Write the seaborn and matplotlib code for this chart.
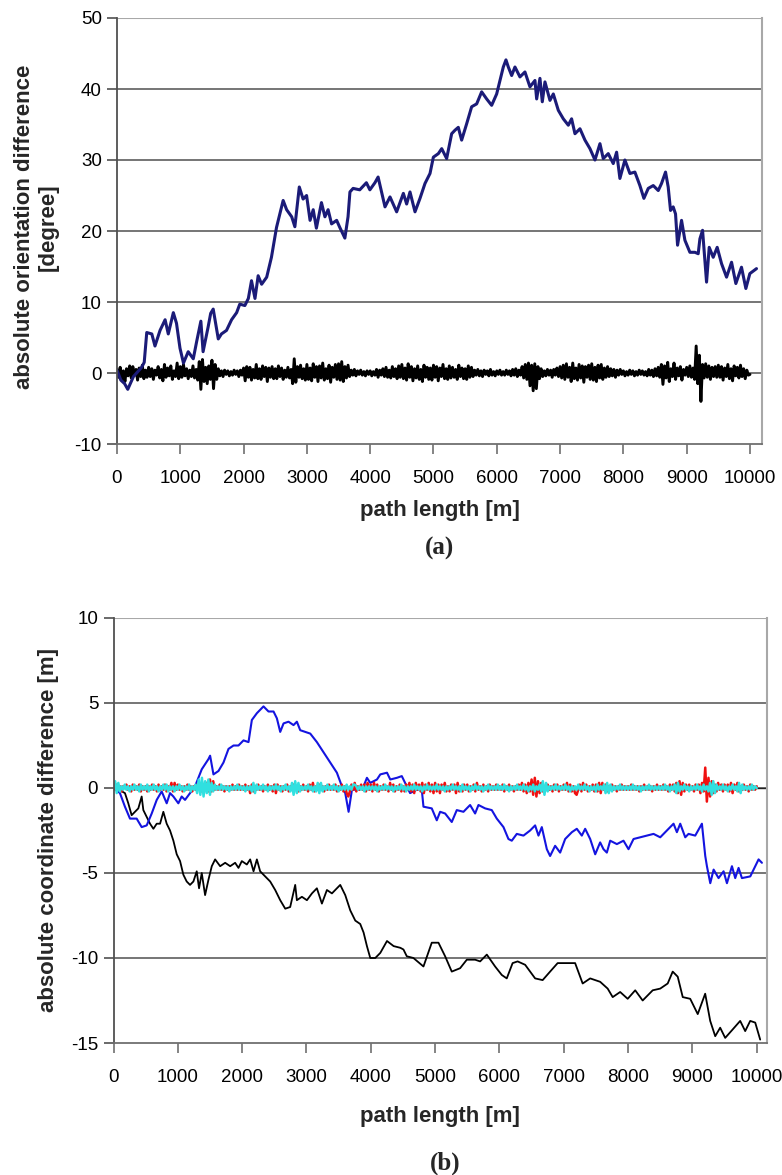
import numpy as np
import pandas as pd
import matplotlib
matplotlib.use("Agg")
import matplotlib.pyplot as plt
import seaborn as sns

# ---- data ----
# (a) absolute orientation difference [degree], uncorrected
orient_drift = [
    (0, 0.4), (60, -1.0), (120, -1.5), (170, -2.3), (260, -0.5), (390, 0.8), (430, 1.5),
    (470, 5.7), (550, 5.5), (600, 3.8), (680, 6.0), (760, 7.5), (810, 5.5), (890, 8.5),
    (940, 7.0), (995, 3.5), (1050, 1.4), (1125, 3.0), (1205, 2.0), (1260, 4.5), (1325, 7.3),
    (1360, 3.0), (1440, 6.5), (1480, 8.4), (1520, 9.0), (1600, 4.8), (1650, 5.5), (1730, 6.0),
    (1810, 7.5), (1890, 8.5), (1940, 9.7), (2020, 9.5), (2075, 10.5), (2125, 13.0), (2180, 10.5),
    (2230, 13.7), (2285, 12.5), (2365, 13.5), (2440, 16.3), (2520, 20.5), (2575, 22.5),
    (2625, 24.3), (2680, 23.0), (2760, 22.0), (2810, 20.6), (2880, 26.2), (2940, 24.5),
    (2995, 25.0), (3050, 21.5), (3100, 23.0), (3150, 20.4), (3230, 24.0), (3285, 22.0),
    (3335, 23.0), (3390, 21.0), (3470, 21.5), (3520, 20.5), (3600, 19.0), (3650, 22.0),
    (3680, 25.5), (3730, 26.0), (3835, 25.8), (3940, 26.8), (3995, 25.8), (4075, 26.8),
    (4125, 27.6), (4234, 23.4), (4313, 24.8), (4418, 22.7), (4524, 25.3), (4576, 23.8),
    (4629, 25.5), (4708, 22.7), (4787, 24.6), (4866, 26.7), (4945, 28.1), (4998, 30.4),
    (5077, 30.9), (5130, 31.6), (5208, 30.2), (5287, 33.7), (5340, 34.2), (5392, 34.6),
    (5445, 32.8), (5524, 35.1), (5603, 37.5), (5682, 37.9), (5761, 39.6), (5840, 38.6),
    (5919, 37.7), (5998, 39.3), (6050, 41.2), (6103, 43.1), (6145, 44.1), (6182, 43.1),
    (6235, 41.9), (6287, 43.1), (6366, 41.7), (6445, 42.4), (6524, 40.3), (6603, 41.2),
    (6630, 38.6), (6682, 41.5), (6719, 38.2), (6761, 41.0), (6840, 38.4), (6893, 39.3),
    (6972, 37.0), (7051, 35.8), (7130, 34.9), (7182, 35.8), (7235, 33.7), (7314, 34.4),
    (7393, 32.8), (7472, 31.6), (7551, 30.0), (7630, 32.3), (7682, 30.2), (7761, 30.9),
    (7840, 29.5), (7893, 31.1), (7945, 27.4), (8024, 30.0), (8103, 28.1), (8182, 28.3),
    (8261, 26.4), (8324, 24.6), (8393, 26.0), (8472, 26.4), (8551, 25.7), (8603, 26.7),
    (8666, 28.3), (8708, 26.2), (8745, 22.9), (8787, 23.4), (8824, 22.4), (8856, 18.0),
    (8919, 21.5), (8972, 18.7), (9051, 17.0), (9130, 17.0), (9182, 16.8), (9209, 18.9),
    (9251, 20.1), (9288, 15.9), (9314, 12.8), (9356, 17.7), (9419, 16.3), (9482, 17.7),
    (9551, 15.4), (9630, 13.5), (9709, 15.6), (9777, 12.6), (9866, 14.9), (9935, 11.9),
    (9998, 14.0), (10103, 14.7),
]

# (a) corrected orientation difference, one value every 25 m
noise_step = 25
orient_corrected = [
    0.5, -0.6, 0.8, -0.9, 0.3, -1.2, 0.6, -0.4, 1.0, -0.7, 0.9, -0.3, 0.5, -1.0, 0.7, -0.5, 1.1, -0.8, 0.4, -0.6,
    0.8, -0.5, 0.6, -0.9, 0.4, -0.3, 0.9, -0.7, 0.5, -1.1, 1.2, -0.6, 0.7, -0.4, 1.0, -0.9, 0.3, -0.5, 1.4, -0.8,
    0.9, -0.6, 1.2, -0.4, 0.6, -0.8, 0.4, -0.5, 1.0, -0.7, 0.5, -1.0, 1.6, -2.3, 1.9, -1.2, 0.8, -1.5, 1.0, -0.9,
    1.8, -2.2, 1.2, -0.9, 0.6, -0.4, 0.3, -0.5, 0.4, -0.2, 0.3, -0.4, 0.2, -0.3, 0.4, -0.2, 0.3, -0.5, 0.4, -0.3,
    0.7, -1.1, 0.9, -0.6, 0.8, -1.0, 0.5, -0.7, 1.2, -0.8, 0.6, -0.9, 1.0, -0.5, 0.8, -1.2, 0.7, -0.6, 0.9, -0.8,
    0.6, -0.8, 1.0, -0.5, 0.7, -0.9, 0.4, -0.6, 0.8, -0.7, 0.5, -1.5, 2.0, -1.3, 0.9, -0.6, 1.1, -0.8, 0.6, -1.0,
    1.2, -0.9, 0.7, -1.1, 1.3, -0.6, 0.9, -1.2, 1.0, -0.7, 1.4, -1.0, 0.6, -0.8, 1.1, -1.3, 0.8, -0.6, 1.2, -0.9,
    1.3, -1.0, 1.6, -1.2, 0.9, -0.7, 1.1, -0.5, 0.4, -0.3, 0.5, -0.4, 0.3, -0.2, 0.4, -0.3, 0.2, -0.4, 0.3, -0.2,
    0.3, -0.4, 0.2, -0.3, 0.5, -0.6, 0.4, -0.3, 0.6, -0.5, 0.8, -0.6, 0.4, -0.7, 0.9, -0.5, 0.6, -0.8, 1.0, -0.6,
    1.2, -0.8, 0.7, -1.0, 1.3, -0.6, 0.9, -1.1, 0.6, -0.7, 1.0, -0.9, 0.5, -1.2, 1.1, -0.6, 0.8, -0.9, 0.7, -1.0,
    1.1, -0.6, 0.9, -1.1, 0.7, -0.5, 1.2, -0.8, 0.6, -0.9, 1.0, -0.7, 0.8, -0.6, 0.5, -0.9, 1.1, -0.5, 0.7, -0.8,
    0.6, -0.9, 1.0, -0.6, 0.8, -0.5, 0.4, -0.3, 0.5, -0.4, 0.3, -0.5, 0.4, -0.2, 0.3, -0.4, 0.5, -0.3, 0.2, -0.4,
    0.3, -0.2, 0.4, -0.3, 0.2, -0.3, 0.4, -0.2, 0.3, -0.4, 0.5, -0.3, 0.6, -0.5, 0.4, -0.3, 0.9, -0.7, 1.2, -0.9,
    1.4, -1.8, 1.1, -2.5, 1.3, -2.2, 0.9, -0.8, 0.6, -0.5, 0.3, -0.4, 0.5, -0.3, 0.4, -0.6, 0.5, -0.3, 0.7, -0.5,
    0.9, -0.7, 1.1, -0.9, 1.3, -0.6, 0.8, -1.2, 1.4, -0.8, 0.7, -1.0, 1.2, -0.7, 1.0, -1.3, 0.9, -0.6, 1.1, -0.9,
    1.3, -1.0, 0.8, -1.2, 1.1, -0.7, 1.2, -0.9, 0.7, -0.6, 0.9, -0.5, 0.6, -0.4, 0.5, -0.6, 0.4, -0.3, 0.5, -0.2,
    0.3, -0.4, 0.2, -0.3, 0.4, -0.2, 0.3, -0.4, 0.2, -0.3, 0.4, -0.2, 0.3, -0.3, 0.2, -0.4, 0.5, -0.3, 0.4, -0.5,
    0.6, -0.4, 0.8, -0.6, 1.2, -1.6, 1.0, -0.7, 1.5, -1.2, 0.6, -0.5, 1.4, -0.9, 0.7, -0.4, 0.9, -1.0, 0.5, -0.3,
    0.8, -0.5, 1.0, -0.6, 0.7, -0.9, 3.8, -1.5, 2.5, -4.0, 1.2, -0.7, 1.3, -0.6, 1.0, -0.9, 0.8, -0.5, 0.9, -0.6,
    1.1, -0.6, 0.9, -1.0, 0.7, -0.5, 1.2, -0.8, 0.6, -1.1, 1.0, -0.4, 0.8, -0.7, 1.1, -0.5, 0.6, -0.8, 0.4, -0.3,
    -0.2,
]

# (b) absolute coordinate difference [m], uncorrected
coord_blue = [
    (0, 0.0), (100, -0.3), (178, -1.1), (256, -1.8), (360, -1.8), (438, -2.3), (516, -2.2),
    (594, -1.5), (672, -0.7), (749, -0.2), (827, -0.9), (879, -0.3), (931, -0.5), (1008, -0.9),
    (1060, -0.5), (1112, -0.7), (1190, -0.3), (1268, 0.1), (1372, 1.1), (1424, 1.4),
    (1476, 1.7), (1502, 1.9), (1554, 0.8), (1632, 1.0), (1710, 1.5), (1788, 2.3), (1866, 2.5),
    (1943, 2.5), (2021, 2.8), (2099, 2.7), (2151, 4.0), (2229, 4.4), (2332, 4.8), (2410, 4.5),
    (2488, 4.5), (2540, 4.1), (2592, 3.3), (2644, 3.8), (2721, 3.9), (2799, 3.7), (2851, 3.9),
    (2903, 3.4), (2981, 3.3), (3059, 3.2), (3162, 2.7), (3266, 2.1), (3370, 1.5), (3473, 0.9),
    (3551, 0.1), (3603, -0.3), (3655, -1.4), (3707, -0.1), (3810, -0.1), (3888, 0.1),
    (3940, 0.6), (3992, 0.3), (4096, 0.5), (4148, 0.8), (4252, 0.9), (4303, 0.5), (4407, 0.6),
    (4482, 0.7), (4534, 0.3), (4611, -0.3), (4715, -0.1), (4793, -0.1), (4819, -1.1),
    (4948, -1.2), (5026, -1.9), (5078, -1.4), (5156, -1.5), (5259, -2.0), (5337, -1.3),
    (5441, -1.4), (5544, -1.0), (5622, -1.5), (5674, -1.0), (5778, -1.2), (5881, -1.3),
    (5959, -1.8), (6063, -2.3), (6140, -3.0), (6192, -3.1), (6270, -2.7), (6374, -2.8),
    (6477, -2.5), (6555, -2.2), (6607, -2.8), (6659, -2.3), (6737, -3.6), (6788, -4.0),
    (6866, -3.4), (6944, -3.8), (7022, -3.0), (7126, -2.6), (7203, -2.4), (7281, -2.8),
    (7333, -2.4), (7411, -3.0), (7489, -3.9), (7566, -3.2), (7618, -3.6), (7670, -3.8),
    (7722, -3.1), (7826, -3.3), (7929, -3.1), (8007, -3.6), (8085, -3.0), (8189, -2.9),
    (8292, -2.8), (8396, -2.7), (8500, -2.9), (8577, -2.6), (8655, -2.3), (8707, -2.1),
    (8759, -2.6), (8811, -2.1), (8889, -2.9), (8940, -2.7), (9044, -2.8), (9148, -2.1),
    (9200, -4.0), (9226, -4.6), (9278, -5.6), (9330, -4.8), (9407, -5.3), (9485, -4.9),
    (9537, -5.6), (9615, -4.6), (9666, -5.3), (9718, -4.7), (9770, -5.3), (9900, -5.2),
    (9977, -4.6), (10029, -4.2), (10081, -4.4),
]

coord_black = [
    (0, 0.0), (78, -0.1), (130, -0.2), (178, -0.3), (230, -0.9), (282, -1.6), (334, -1.4),
    (386, -1.2), (438, -0.5), (464, -1.3), (516, -1.7), (568, -2.1), (620, -2.4), (672, -2.1),
    (724, -2.1), (775, -1.4), (827, -2.1), (879, -2.5), (931, -3.1), (983, -3.9), (1035, -4.3),
    (1086, -5.1), (1138, -5.5), (1190, -5.7), (1242, -5.5), (1294, -4.9), (1330, -5.9),
    (1372, -5.0), (1424, -6.3), (1476, -5.4), (1528, -4.6), (1580, -4.2), (1658, -4.6),
    (1736, -4.4), (1814, -4.6), (1891, -4.4), (1943, -4.7), (1995, -4.3), (2073, -4.5),
    (2125, -4.2), (2177, -4.9), (2229, -4.2), (2280, -4.9), (2358, -5.2), (2436, -5.5),
    (2514, -6.0), (2592, -6.6), (2670, -7.1), (2747, -7.0), (2825, -5.7), (2851, -6.6),
    (2929, -6.4), (3007, -6.6), (3085, -6.2), (3162, -5.9), (3240, -6.8), (3318, -6.0),
    (3396, -6.2), (3473, -5.9), (3525, -5.7), (3603, -6.3), (3681, -7.2), (3759, -7.8),
    (3836, -8.0), (3888, -8.5), (3940, -9.3), (3992, -10.0), (4070, -10.0), (4148, -9.7),
    (4252, -9.0), (4355, -9.3), (4459, -9.4), (4508, -9.5), (4560, -9.9), (4663, -10.0),
    (4819, -10.5), (4948, -9.1), (5052, -9.1), (5156, -9.9), (5259, -10.8), (5389, -10.6),
    (5493, -10.1), (5622, -10.1), (5700, -10.2), (5804, -9.8), (5933, -10.5), (6037, -11.0),
    (6114, -11.2), (6205, -10.3), (6283, -10.2), (6400, -10.4), (6555, -11.2), (6672, -11.3),
    (6788, -10.8), (6905, -10.3), (7022, -10.3), (7177, -10.3), (7294, -11.5), (7411, -11.2),
    (7566, -11.4), (7683, -11.8), (7761, -12.3), (7877, -12.0), (7994, -12.4), (8111, -11.9),
    (8227, -12.5), (8383, -11.9), (8500, -11.8), (8616, -11.5), (8694, -10.8), (8772, -11.1),
    (8850, -12.3), (8966, -12.4), (9083, -13.3), (9199, -12.1), (9277, -13.7), (9355, -14.6),
    (9432, -14.1), (9510, -14.7), (9627, -14.2), (9743, -13.7), (9821, -14.3), (9899, -13.7),
    (9977, -13.8), (10054, -14.8),
]

# (b) corrected coordinates, one value every 25 m
coord_red = [
    0.1, -0.1, 0.2, -0.1, 0.1, -0.2, 0.1, 0.0, 0.2, -0.1, 0.1, -0.2, 0.2, -0.1, 0.1, -0.1, 0.2, -0.2, 0.1, -0.1,
    0.1, -0.2, 0.1, -0.1, 0.2, -0.1, 0.1, -0.2, 0.2, -0.1, 0.1, -0.1, 0.2, -0.2, 0.1, -0.1, 0.3, -0.2, 0.3, -0.1,
    0.2, -0.1, 0.1, -0.2, 0.1, -0.1, 0.2, -0.1, 0.1, -0.2, 0.1, -0.1, 0.2, -0.1, 0.1, -0.2, 0.2, -0.1, 0.3, -0.2,
    0.5, -0.2, 0.4, -0.1, 0.1, -0.1, 0.2, -0.1, 0.1, -0.2, 0.1, -0.1, 0.1, -0.1, 0.2, -0.1, 0.1, -0.1, 0.2, -0.1,
    0.1, -0.1, 0.2, -0.1, 0.1, -0.3, 0.2, -0.2, 0.1, -0.1, 0.2, -0.1, 0.1, -0.2, 0.1, -0.1, 0.2, -0.1, 0.1, -0.2,
    0.2, -0.3, 0.2, -0.1, 0.1, -0.2, 0.1, -0.1, 0.2, -0.2, 0.1, -0.1, 0.2, -0.1, 0.1, -0.2, 0.1, -0.1, 0.2, -0.1,
    0.1, -0.2, 0.2, -0.1, 0.3, -0.2, 0.1, -0.1, 0.2, -0.1, 0.1, -0.2, 0.1, -0.1, 0.2, -0.1, 0.1, -0.1, 0.2, -0.2,
    0.1, -0.1, 0.2, -0.2, 0.1, -0.3, -0.5, -0.2, 0.2, -0.1, 0.3, -0.2, 0.1, -0.1, 0.2, -0.1, 0.2, -0.2, 0.3, -0.1,
    0.2, -0.2, 0.3, -0.1, 0.2, -0.2, 0.1, -0.1, 0.2, -0.1, 0.1, -0.2, 0.3, -0.1, 0.2, -0.2, 0.1, -0.1, 0.2, -0.2,
    0.1, -0.2, 0.2, -0.1, 0.3, -0.2, 0.2, -0.3, 0.3, -0.1, 0.2, -0.2, 0.3, -0.3, 0.2, -0.1, 0.3, -0.2, 0.2, -0.3,
    0.3, -0.2, 0.2, -0.3, 0.2, -0.1, 0.3, -0.2, 0.1, -0.2, 0.2, -0.1, 0.2, -0.3, 0.3, -0.2, 0.1, -0.2, 0.2, -0.1,
    0.2, -0.2, 0.1, -0.1, 0.2, -0.2, 0.3, -0.1, 0.1, -0.2, 0.2, -0.1, 0.1, -0.2, 0.2, -0.1, 0.1, -0.1, 0.2, -0.1,
    0.1, -0.1, 0.2, -0.2, 0.1, -0.1, 0.2, -0.1, 0.1, -0.2, 0.1, -0.1, 0.2, -0.1, 0.3, -0.2, 0.2, -0.3, 0.3, -0.2,
    0.5, -0.4, 0.6, -0.5, 0.4, -0.3, 0.3, -0.2, 0.1, -0.1, 0.2, -0.1, 0.1, -0.2, 0.2, -0.1, 0.2, -0.2, 0.1, -0.1,
    0.2, -0.1, 0.3, -0.2, 0.2, -0.2, 0.1, -0.3, -0.4, -0.1, 0.2, -0.2, 0.3, -0.1, 0.2, -0.2, 0.1, -0.1, 0.2, -0.2,
    0.2, -0.2, 0.3, -0.3, 0.3, -0.1, 0.2, -0.2, 0.1, -0.1, 0.2, -0.1, 0.1, -0.2, 0.1, -0.1, 0.2, -0.1, 0.1, -0.1,
    0.1, -0.1, 0.2, -0.1, 0.1, -0.1, 0.1, -0.2, 0.1, -0.1, 0.2, -0.1, 0.1, -0.1, 0.1, -0.2, 0.1, -0.1, 0.2, -0.1,
    0.1, -0.1, 0.2, -0.1, 0.1, -0.2, 0.2, -0.1, 0.2, -0.2, 0.3, -0.3, 0.4, -0.4, 0.3, -0.2, 0.2, -0.1, 0.2, -0.1,
    0.1, -0.2, 0.2, -0.1, 0.2, -0.3, 0.3, -0.2, 1.2, -0.8, 0.6, -0.5, 0.4, -0.3, 0.2, -0.2, 0.3, -0.1, 0.2, -0.2,
    0.2, -0.1, 0.2, -0.2, 0.3, -0.3, 0.2, -0.1, 0.3, -0.2, 0.1, -0.1, 0.2, -0.1, 0.1, -0.2, 0.2, -0.1, 0.1, -0.1,
    0.1,
]

coord_cyan = [
    0.0, 0.4, -0.3, 0.3, -0.2, 0.1, -0.1, 0.2, -0.1, 0.1, -0.2, 0.1, -0.1, 0.2, -0.1, 0.1, -0.2, 0.2, -0.1, 0.1,
    -0.1, 0.2, -0.2, 0.1, -0.1, 0.2, -0.1, 0.1, -0.2, 0.1, -0.1, 0.2, -0.1, 0.2, -0.2, 0.1, -0.1, 0.1, -0.2, 0.1,
    -0.1, 0.2, -0.1, 0.1, -0.2, 0.1, -0.1, 0.2, -0.2, 0.1, -0.1, 0.2, -0.3, 0.5, -0.4, 0.6, -0.5, 0.4, -0.3, 0.5,
    -0.4, 0.3, -0.2, 0.2, -0.1, 0.1, -0.1, 0.2, -0.1, 0.1, -0.1, 0.1, -0.2, 0.1, -0.1, 0.1, -0.1, 0.2, -0.1, 0.1,
    -0.1, 0.1, -0.2, 0.1, -0.1, 0.1, -0.2, 0.3, -0.3, 0.2, -0.1, 0.1, -0.1, 0.2, -0.1, 0.1, -0.2, 0.1, -0.1, 0.1,
    -0.1, 0.2, -0.1, 0.1, -0.2, 0.1, -0.1, 0.2, -0.1, 0.1, -0.2, 0.3, -0.4, 0.4, -0.3, 0.3, -0.2, 0.1, -0.1, 0.1,
    -0.1, 0.2, -0.1, 0.1, -0.2, 0.1, -0.2, 0.3, -0.3, 0.3, -0.2, 0.1, -0.1, 0.2, -0.1, 0.1, -0.1, 0.2, -0.1, 0.1,
    -0.2, 0.1, -0.1, 0.1, -0.1, 0.2, -0.1, 0.1, -0.1, 0.2, 0.2, 0.1, -0.1, 0.1, -0.1, 0.1, -0.2, 0.1, -0.1, 0.1,
    -0.1, 0.1, -0.1, 0.1, -0.2, 0.1, -0.1, 0.1, -0.1, 0.2, -0.1, 0.1, -0.1, 0.1, -0.2, 0.1, -0.1, 0.1, -0.1, 0.2,
    -0.1, 0.1, -0.2, 0.1, -0.1, 0.1, -0.1, 0.2, -0.1, 0.1, -0.1, 0.1, -0.2, 0.1, -0.1, 0.2, -0.1, 0.1, -0.1, 0.1,
    -0.1, 0.2, -0.1, 0.1, -0.1, 0.1, -0.2, 0.1, -0.1, 0.1, -0.1, 0.2, -0.1, 0.1, -0.1, 0.1, -0.2, 0.2, -0.1, 0.1,
    -0.1, 0.1, -0.2, 0.1, -0.1, 0.2, -0.1, 0.1, -0.1, 0.1, -0.2, 0.1, -0.1, 0.2, -0.1, 0.1, -0.1, 0.1, -0.1, 0.2,
    -0.1, 0.1, -0.1, 0.2, -0.1, 0.1, -0.2, 0.1, -0.1, 0.1, -0.1, 0.2, -0.1, 0.1, -0.1, 0.2, -0.1, 0.1, -0.2, 0.1,
    -0.1, 0.2, -0.2, 0.1, -0.1, 0.2, -0.2, 0.4, -0.4, 0.3, -0.2, 0.1, -0.1, 0.1, -0.1, 0.2, -0.1, 0.1, -0.1, 0.1,
    -0.1, 0.2, -0.1, 0.1, -0.2, 0.1, -0.1, 0.1, -0.1, 0.2, -0.1, 0.1, -0.1, 0.2, -0.1, 0.1, -0.2, 0.1, -0.1, 0.1,
    -0.2, 0.2, -0.1, 0.1, -0.1, 0.2, -0.3, 0.3, -0.3, 0.2, -0.2, 0.1, -0.1, 0.1, -0.1, 0.2, -0.1, 0.1, -0.1, 0.1,
    -0.1, 0.1, -0.1, 0.2, -0.1, 0.1, -0.1, 0.1, -0.2, 0.1, -0.1, 0.1, -0.1, 0.2, -0.1, 0.1, -0.1, 0.1, -0.1, 0.1,
    -0.1, 0.1, -0.1, 0.2, -0.1, 0.1, -0.2, 0.1, -0.1, 0.2, -0.3, 0.3, -0.2, 0.1, -0.1, 0.2, -0.1, 0.1, -0.2, 0.1,
    -0.1, 0.1, -0.1, 0.2, -0.1, 0.1, -0.2, 0.2, -0.1, 0.1, -0.2, 0.3, -0.4, 0.4, -0.3, 0.2, -0.1, 0.1, -0.1, 0.2,
    -0.1, 0.1, -0.2, 0.1, -0.1, 0.2, -0.1, 0.1, -0.2, 0.3, -0.3, 0.2, -0.1, 0.1, -0.1, 0.1, -0.1, 0.2, -0.1, 0.1,
    0.0,
]

x_ticks = list(range(0, 10001, 1000))
yticks_a = [-10, 0, 10, 20, 30, 40, 50]
yticks_b = [-15, -10, -5, 0, 5, 10]

# ---- styling ----
sns.set_theme(style="white")
plt.rcParams["font.family"] = ["Liberation Sans", "DejaVu Sans"]

fig = plt.figure(figsize=(7.82, 11.75), dpi=100)
ax_a = fig.add_axes([117 / 782, 1 - 444 / 1175, 645 / 782, 426 / 1175])
ax_b = fig.add_axes([113.5 / 782, 1 - 1043 / 1175, 653.5 / 782, 425 / 1175])


def lines_from_pairs(pairs):
    return pd.DataFrame(pairs, columns=["path", "diff"])


def lines_from_samples(values):
    return pd.DataFrame({"path": np.arange(len(values)) * noise_step, "diff": values})


def style_axes(ax, yticks, xmax):
    ax.set_xlim(0, xmax)
    ax.set_ylim(yticks[0], yticks[-1])
    ax.set_xticks(x_ticks)
    ax.set_yticks(yticks)
    ax.set_xticklabels([str(t) for t in x_ticks], fontsize=13.5)
    ax.set_yticklabels([str(t) for t in yticks], fontsize=13.5)
    for y in yticks[1:-1]:
        ax.axhline(y, color="#6a6a6a", lw=1.3, zorder=0)
    ax.axhline(yticks[-1], color="#a8a8a8", lw=1.5, zorder=0)
    ax.spines["top"].set_visible(False)
    ax.spines["right"].set_color("#a8a8a8")
    ax.spines["right"].set_linewidth(1.5)
    ax.spines["left"].set_color("#505050")
    ax.spines["left"].set_linewidth(1.3)
    ax.spines["bottom"].set_color("#707070")
    ax.spines["bottom"].set_linewidth(1.3)
    ax.tick_params(axis="x", direction="out", length=7, width=1.2, color="#707070",
                   pad=11.5, bottom=True, labelcolor="black")
    ax.tick_params(axis="y", direction="out", length=7, width=1.2, color="#505050",
                   pad=4, left=True, labelcolor="black")


# panel (a)
sns.lineplot(data=lines_from_samples(orient_corrected), x="path", y="diff", ax=ax_a,
             color="black", linewidth=2.1, estimator=None, sort=False)
sns.lineplot(data=lines_from_pairs(orient_drift), x="path", y="diff", ax=ax_a,
             color="#1b1b78", linewidth=2.2, estimator=None, sort=False)
style_axes(ax_a, yticks_a, 10190)
ax_a.set_xlabel("path length [m]", fontsize=16, fontweight="bold")
ax_a.xaxis.set_label_coords(0.5, -0.155)
ax_a.xaxis.label.set_va("center")
ax_a.set_ylabel("absolute orientation difference\n[degree]", fontsize=16,
                fontweight="bold", linespacing=1.15)
ax_a.yaxis.set_label_coords(-0.125, 0.51)
ax_a.yaxis.label.set_va("center")

# panel (b)
ax_b.axhline(0, color="#202020", lw=1.0, zorder=1)
sns.lineplot(data=lines_from_pairs(coord_black), x="path", y="diff", ax=ax_b,
             color="black", linewidth=1.3, estimator=None, sort=False)
sns.lineplot(data=lines_from_pairs(coord_blue), x="path", y="diff", ax=ax_b,
             color="#1414e0", linewidth=1.5, estimator=None, sort=False)
sns.lineplot(data=lines_from_samples(coord_red), x="path", y="diff", ax=ax_b,
             color="#f01010", linewidth=1.8, estimator=None, sort=False)
sns.lineplot(data=lines_from_samples(coord_cyan), x="path", y="diff", ax=ax_b,
             color="#30e0e0", linewidth=1.8, estimator=None, sort=False)
style_axes(ax_b, yticks_b, 10160)
ax_b.set_xlabel("path length [m]", fontsize=16, fontweight="bold")
ax_b.xaxis.set_label_coords(0.5, -0.172)
ax_b.xaxis.label.set_va("center")
ax_b.set_ylabel("absolute coordinate difference [m]", fontsize=16, fontweight="bold")
ax_b.yaxis.set_label_coords(-0.099, 0.5)
ax_b.yaxis.label.set_va("center")

fig.text(440 / 782, 1 - 548 / 1175, "(a)", ha="center", va="center", fontsize=18,
         fontweight="bold", family=["Liberation Serif", "DejaVu Serif"])
fig.text(445 / 782, 1 - 1163 / 1175, "(b)", ha="center", va="center", fontsize=18,
         fontweight="bold", family=["Liberation Serif", "DejaVu Serif"])

fig.savefig("out.png", dpi=100, facecolor="white")
